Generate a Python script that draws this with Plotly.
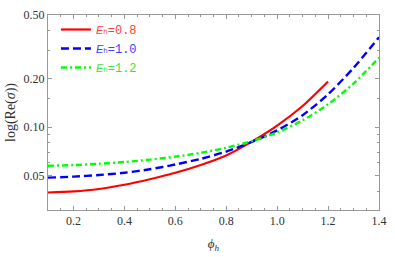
import plotly.graph_objects as go

phi = [0.1, 0.2, 0.3, 0.4, 0.5, 0.6, 0.7, 0.8, 0.9, 1.0, 1.1, 1.2, 1.3, 1.4]
red_vals = [0.0392, 0.0398, 0.0412, 0.0438, 0.0474, 0.0520, 0.0582, 0.0667, 0.0813, 0.1024, 0.1356, 0.1925]
blue_vals = [0.0485, 0.0492, 0.0504, 0.0520, 0.0547, 0.0586, 0.0635, 0.0705, 0.0810, 0.0955, 0.1189, 0.1603, 0.2344, 0.363]
green_vals = [0.0575, 0.0581, 0.0592, 0.0607, 0.0628, 0.0656, 0.0692, 0.0745, 0.0818, 0.0929, 0.1104, 0.139, 0.187, 0.271]
labels = ["0.8", "1.0", "1.2"]
y_ticks = [0.05, 0.1, 0.2, 0.5]
y_ticktext = ["0.05", "0.10", "0.20", "0.50"]
y_minor = [0.04, 0.06, 0.07, 0.08, 0.09, 0.15, 0.3, 0.4]
x_ticks = [0.2, 0.4, 0.6, 0.8, 1.0, 1.2, 1.4]

def name(lbl, color):
    return (f"<span style='color:{color}'><i>E</i><span style='font-family:DejaVu Sans;font-size:11px'>ₕ</span>"
            f"<span style='font-family:Liberation Mono;font-size:12px'>={lbl}</span></span>")

fig = go.Figure()
fig.add_trace(go.Scatter(x=phi[:len(red_vals)], y=red_vals, mode="lines",
                         line=dict(color="#ff0000", width=2.2, shape="spline", smoothing=0.8),
                         name=name(labels[0], "#ff4040")))
fig.add_trace(go.Scatter(x=phi, y=blue_vals, mode="lines",
                         line=dict(color="#0000ff", width=2.4, dash="8px,4px", shape="spline", smoothing=0.8),
                         name=name(labels[1], "#4040ff")))
fig.add_trace(go.Scatter(x=phi, y=green_vals, mode="lines",
                         line=dict(color="#00ff00", width=2.4, dash="6px,3px,2px,3px", shape="spline", smoothing=0.8),
                         name=name(labels[2], "#40e040")))

axis_common = dict(showline=True, linecolor="#999999", linewidth=1, mirror="ticks",
                   ticks="inside", tickcolor="#999999", ticklen=4, showgrid=False, zeroline=False,
                   tickfont=dict(family="Liberation Serif", size=12, color="#333333"))

fig.update_layout(
    width=395, height=257,
    margin=dict(l=48, r=8, t=8, b=40),
    paper_bgcolor="white", plot_bgcolor="white",
    showlegend=True,
    legend=dict(x=0.024, y=1.0, xanchor="left", yanchor="top", bgcolor="rgba(0,0,0,0)",
                font=dict(family="Liberation Sans", size=11, color="#333"),
                tracegroupgap=0, itemwidth=30),
    xaxis=dict(range=[0.1, 1.4], tickvals=x_ticks, ticktext=[f"{v:.1f}" for v in x_ticks],
               ticklabeloverflow="allow",
               minor=dict(dtick=0.05, tick0=0, ticks="inside", ticklen=2, tickcolor="#999999"),
               title=dict(text="<i>ϕ<sub>h</sub></i>", font=dict(family="Liberation Serif", size=13, color="#333"), standoff=11),
               **axis_common),
    yaxis=dict(type="log", range=[-1.5157, -0.30103], tickvals=y_ticks, ticktext=y_ticktext,
               minor=dict(tickvals=y_minor, ticks="inside", ticklen=2, tickcolor="#999999"),
               title=dict(text="log(Re(<i>σ</i>))", font=dict(family="Liberation Serif", size=14, color="#333"), standoff=4),
               **axis_common),
)

fig.write_html("out.html", config={"displayModeBar": False},
               post_script="document.body.style.margin='0';document.body.style.overflow='hidden';")
